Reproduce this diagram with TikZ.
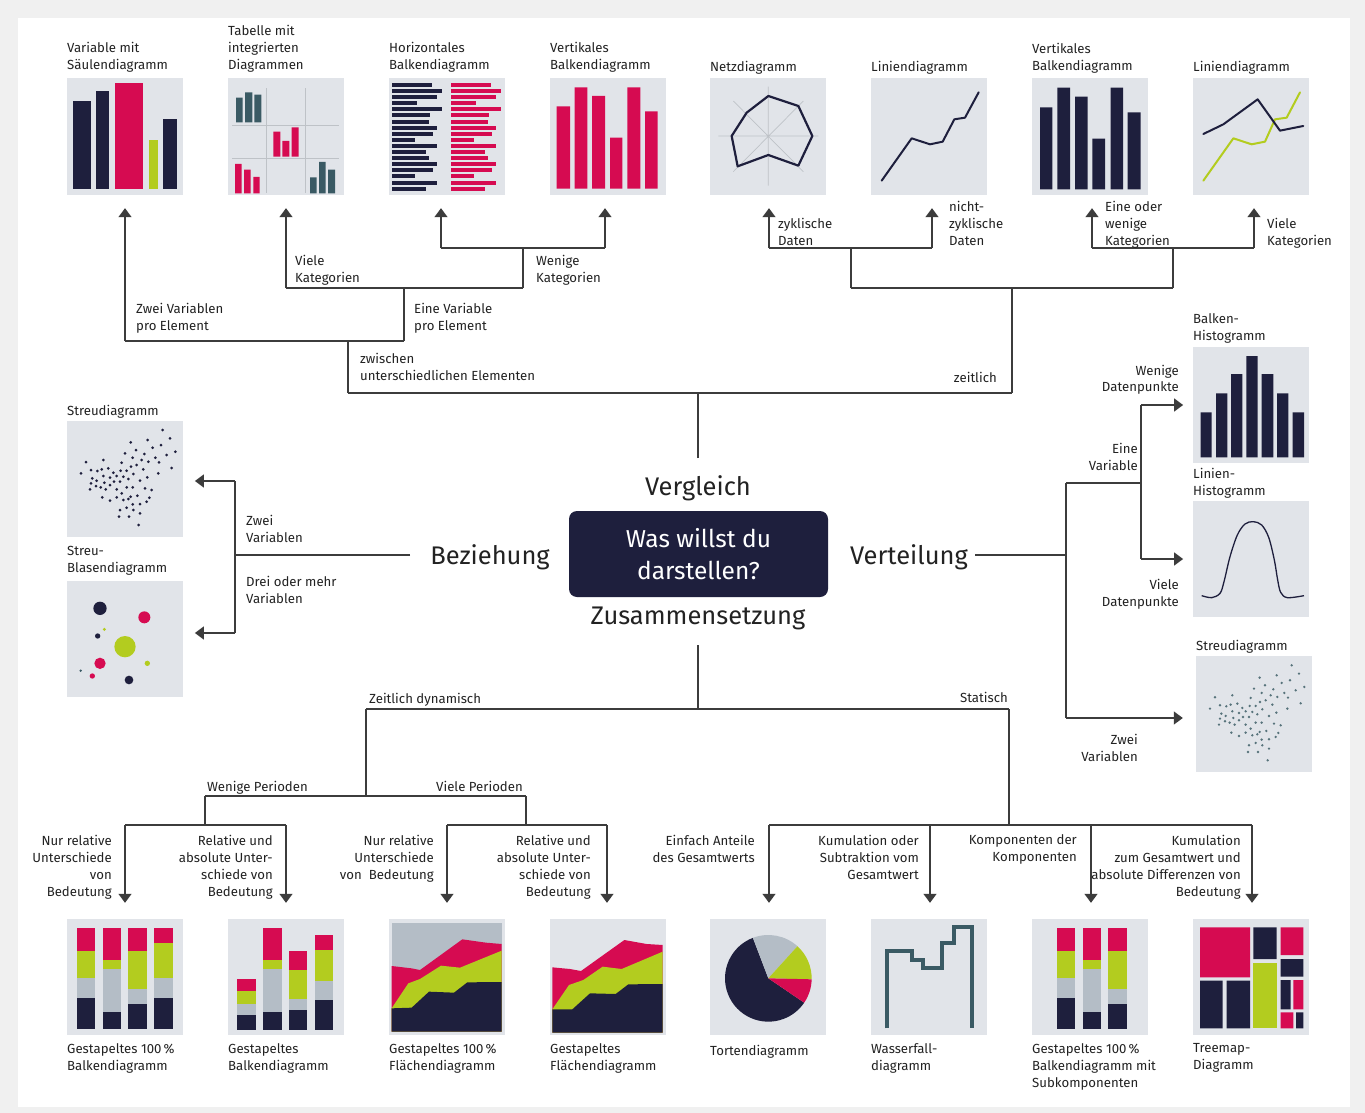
\documentclass[tikz,border=0pt]{standalone}
\usepackage{fontspec}
\setmainfont{Fira Sans}
\usetikzlibrary{arrows.meta}
\definecolor{navy}{RGB}{30,31,61}
\definecolor{crimson}{RGB}{214,11,81}
\definecolor{lime}{RGB}{179,204,31}
\definecolor{grayb}{RGB}{180,189,198}
\definecolor{tealc}{RGB}{58,90,100}
\definecolor{panelbg}{RGB}{225,228,233}
\definecolor{linec}{RGB}{60,60,60}
\definecolor{textc}{RGB}{34,34,34}
\definecolor{gridc}{RGB}{190,194,199}
\definecolor{framebg}{RGB}{240,240,240}
\newcommand{\lblfont}{\fontsize{13.2}{17}\selectfont}
\newcommand{\bigfont}{\fontsize{25.5}{30}\selectfont}
\newcommand{\boxfont}{\fontsize{24.5}{32}\selectfont}
\newcommand{\stkbar}[7]{\fill[crimson] (#1,#3) rectangle (#2,#4);\fill[lime] (#1,#4) rectangle (#2,#5);\fill[grayb] (#1,#5) rectangle (#2,#6);\fill[navy] (#1,#6) rectangle (#2,#7);}
\newcommand{\scatterdots}[2]{\foreach \px/\py in {308/90,330/115,263/120,212/127,303/135,278/143,228/150,346/155,253/162,320/165,195/160,218/173,286/173,245/180,265/185,297/187,130/180,185/188,78/186,230/195,335/204,213/200,145/205,112/213,93/210,125/208,160/218,182/212,200/212,250/208,295/220,63/220,130/228,150/233,170/228,190/230,205/237,262/232,220/222,97/235,110/242,180/245,240/242,162/245,133/248,93/250,108/258,150/255,122/262,90/268,137/268,200/262,218/262,255/265,275/270,170/268,185/280,127/292,268/293,150/302,170/292,190/300,212/290,232/287,260/305,205/297,218/313,240/312,180/330,200/323,220/330,177/350,207/350,240/340,236/375}{\fill[#1] (\px,\py) circle[radius=#2];}}
\begin{document}
\begin{tikzpicture}[x=1pt,y=-1pt,
  lbl/.style={font=\lblfont, text=textc, inner sep=0pt, yshift=-3pt, execute at begin node=\strut},
  lblL/.style={lbl, align=left, anchor=north west},
  lblR/.style={lbl, align=right, anchor=north east},
  big/.style={font=\bigfont, text=textc, inner sep=0pt, yshift=-2.5pt},
  panel/.style={fill=panelbg, minimum width=116pt, minimum height=116pt, inner sep=0pt, draw=none},
  conn/.style={draw=linec, line width=1.4pt},
  arr/.style={conn, -{Triangle[width=13pt,length=9pt]}},
]
\useasboundingbox (0,0) rectangle (1365,1113);
\fill[framebg] (0,0) rectangle (1365,1113);
\fill[white] (18,18) rectangle (1350,1107);

% ---------- panels ----------
\node[panel] (p1) at (125,136.5) {};
\node[panel] (p2) at (285.5,136.5) {};
\node[panel] (p3) at (446.5,136.5) {};
\node[panel] (p4) at (607.5,136.5) {};
\node[panel] (p5) at (768.3,136.5) {};
\node[panel] (p6) at (929.2,136.5) {};
\node[panel] (p7) at (1090,136.5) {};
\node[panel] (p8) at (1251.3,136.5) {};
\node[panel] (s1) at (125,478.7) {};
\node[panel] (s2) at (125,638.7) {};
\node[panel] (r1) at (1251,405) {};
\node[panel] (r2) at (1251,559.3) {};
\node[panel] (r3) at (1253.7,714.3) {};
\node[panel] (q1) at (125,977) {};
\node[panel] (q2) at (285.5,977) {};
\node[panel] (q3) at (446.7,977) {};
\node[panel] (q4) at (607.5,977) {};
\node[panel] (q5) at (768.3,977) {};
\node[panel] (q6) at (929.2,977) {};
\node[panel] (q7) at (1090,977) {};
\node[panel] (q8) at (1251.3,977) {};

% ---------- top charts ----------
\begin{scope}[shift={(60,20)}, scale=1/3]
  \fill[navy] (38,243) rectangle (92,508);
  \fill[navy] (108,213) rectangle (148,508);
  \fill[crimson] (165,190) rectangle (250,508);
  \fill[lime] (267,360) rectangle (293,508);
  \fill[navy] (308,297) rectangle (350,508);
  \draw[gridc, line width=0.8pt] (620,205)--(620,520) (735,205)--(735,520) (517,316)--(836,316) (517,416)--(836,416);
  \fill[tealc] (528,233) rectangle (548,307) (555,217) rectangle (577,307) (583,224) rectangle (604,307);
  \fill[crimson] (640,335) rectangle (661,410) (667,363) rectangle (688,410) (695,322) rectangle (716,410);
  \fill[crimson] (525,432) rectangle (545,520) (552,449) rectangle (572,520) (580,471) rectangle (599,520);
  \fill[tealc] (750,472) rectangle (770,520) (777,426) rectangle (797,520) (804,449) rectangle (825,520);
\end{scope}
\begin{scope}[shift={(380,30)}, scale=1/3]
  \foreach \l [count=\i from 0] in {40,50,45,25,50,38,37,45,41,23,45,34,37,45,41,23,45,34} {
    \fill[navy] (37,{159+\i*18.3}) rectangle ({37+3*\l},{171+\i*18.3});
    \fill[crimson] (212,{159+\i*18.3}) rectangle ({212+3*\l},{171+\i*18.3});
  }
  \fill[crimson] (530,229) rectangle (570,476) (584,172) rectangle (622,476) (636,198) rectangle (675,476)
    (690,323) rectangle (727,476) (742,172) rectangle (781,476) (795,244) rectangle (833,476);
\end{scope}
\begin{scope}[shift={(700,30)}, scale=1/3]
  \draw[gridc, line width=0.7pt] (205,170)--(205,467) (55,318)--(355,318) (100,213)--(310,425) (310,213)--(100,425);
  \draw[navy, line width=2.2pt, line join=round] (205,198)--(295,228)--(337,318)--(295,407)--(205,375)--(113,409)--(95,318)--(140,248)--cycle;
  \draw[navy, line width=2pt, line join=round, line cap=round] (545,452)--(635,325)--(690,343)--(728,335)--(763,268)--(795,263)--(836,187);
\end{scope}
\begin{scope}[shift={(1020,30)}, scale=1/3]
  \fill[navy] (60,232) rectangle (97,478) (112,173) rectangle (150,478) (165,200) rectangle (203,478)
    (217,326) rectangle (255,478) (272,173) rectangle (309,478) (323,247) rectangle (362,478);
  \draw[lime, line width=2pt, line join=round, line cap=round] (550,452)--(640,325)--(695,343)--(735,335)--(765,268)--(800,263)--(840,187);
  \draw[navy, line width=2pt, line join=round, line cap=round] (550,312)--(610,283)--(713,208)--(780,302)--(850,288);
\end{scope}

% ---------- left charts ----------
\begin{scope}[shift={(60,400)}, scale=1/3]
  \scatterdots{navy}{4.5}
  \fill[navy] (120,625) circle[radius=20];
  \fill[crimson] (253,652) circle[radius=18];
  \fill[lime] (133,688) circle[radius=5];
  \fill[navy] (113,708) circle[radius=8];
  \fill[lime] (195,740) circle[radius=32];
  \fill[crimson] (120,790) circle[radius=17];
  \fill[lime] (262,790) circle[radius=8];
  \fill[tealc] (62,812) circle[radius=4];
  \fill[crimson] (97,828) circle[radius=8];
  \fill[navy] (207,840) circle[radius=13];
\end{scope}

% ---------- right charts ----------
\begin{scope}[shift={(1180,300)}, scale=1/3]
  \fill[navy] (62,337) rectangle (95,472) (108,280) rectangle (142,472) (153,222) rectangle (187,472)
    (199,168) rectangle (233,472) (245,222) rectangle (280,472) (291,280) rectangle (325,472) (338,337) rectangle (372,472);
  \draw[navy, line width=1.3pt] plot[smooth, tension=0.55] coordinates {(65,887) (95,893) (120,880) (132,845) (150,770) (172,705) (195,672) (220,665) (245,675) (266,712) (283,780) (293,840) (302,877) (322,893) (372,887)};
\end{scope}
\begin{scope}[shift={(1189,635.3)}, scale=1/3]
  \scatterdots{tealc!85}{4}
\end{scope}

% ---------- bottom charts ----------
\begin{scope}[shift={(60,900)}, scale=1/3]
  \stkbar{50}{106}{84}{154}{233}{295}{388}
  \stkbar{128}{184}{84}{180}{207}{335}{388}
  \stkbar{205}{261}{84}{154}{268}{313}{388}
  \stkbar{282}{338}{84}{130}{233}{295}{388}
  \stkbar{532}{588}{237}{273}{313}{346}{390}
  \stkbar{610}{665}{84}{180}{207}{335}{390}
  \stkbar{687}{742}{154}{209}{297}{331}{390}
  \stkbar{765}{820}{106}{149}{244}{301}{390}
\end{scope}
\begin{scope}[shift={(380,900)}, scale=1/3]
  \fill[grayb] (35,70) rectangle (365,395);
  \fill[crimson] (35,395)--(35,198)--(95,205)--(120,210)--(247,118)--(318,128)--(365,132)--(365,395)--cycle;
  \fill[lime] (35,395)--(35,325)--(85,250)--(120,237)--(183,197)--(240,203)--(365,152)--(365,395)--cycle;
  \fill[navy] (35,395)--(35,325)--(95,323)--(147,275)--(222,278)--(262,247)--(365,246)--(365,395)--cycle;
  \fill[crimson] (517,398)--(517,202)--(570,207)--(603,213)--(733,120)--(800,132)--(848,135)--(848,398)--cycle;
  \fill[lime] (517,398)--(517,328)--(567,255)--(610,240)--(668,200)--(725,207)--(848,155)--(848,398)--cycle;
  \fill[navy] (517,398)--(517,328)--(577,328)--(630,280)--(707,282)--(745,253)--(848,252)--(848,398)--cycle;
\end{scope}
\begin{scope}[shift={(700,900)}, scale=1/3]
  \fill[navy] (205,235) -- ++(-110.9:130) arc[start angle=-110.9, end angle=-325.8, radius=130] -- cycle;
  \fill[grayb] (205,235) -- ++(-47.8:130) arc[start angle=-47.8, end angle=-110.9, radius=130] -- cycle;
  \fill[lime] (205,235) -- ++(1.3:130) arc[start angle=1.3, end angle=-47.8, radius=130] -- cycle;
  \fill[crimson] (205,235) -- ++(34.2:130) arc[start angle=34.2, end angle=1.3, radius=130] -- cycle;
  \draw[tealc, line width=4pt] (560,385)--(560,153)--(635,153)--(635,180)--(670,180)--(670,205)--(725,205)--(725,128)--(762,128)--(762,80)--(817,80)--(817,385);
\end{scope}
\begin{scope}[shift={(1020,900)}, scale=1/3]
  \stkbar{110}{166}{84}{154}{233}{295}{388}
  \stkbar{188}{244}{84}{180}{207}{335}{388}
  \stkbar{265}{321}{84}{154}{268}{313}{388}
  \fill[crimson] (540,82) rectangle (690,232) (782,82) rectangle (850,165) (820,240) rectangle (850,328) (782,337) rectangle (820,385);
  \fill[navy] (540,242) rectangle (608,385) (620,242) rectangle (690,385) (700,82) rectangle (770,177)
    (782,177) rectangle (850,230) (782,240) rectangle (812,328) (828,337) rectangle (850,385);
  \fill[lime] (700,190) rectangle (770,385);
\end{scope}

% ---------- centre ----------
\node[fill=navy, rounded corners=8pt, minimum width=259pt, minimum height=86pt, inner sep=0pt,
      text=white, font=\boxfont, align=center] (box) at (698.5,554) {Was willst du\\darstellen?};
\node[big] (vgl) at (698,486) {Vergleich};
\node[big] (bez) at (490,555) {Beziehung};
\node[big] (vert) at (909,555) {Verteilung};
\node[big] (zus) at (698,616) {Zusammensetzung};

% ---------- connectors: Vergleich ----------
\coordinate (v0) at (698,458);
\coordinate (v1) at (698,393);
\coordinate (a1) at (348,393);
\coordinate (a2) at (1012,393);
\coordinate (b1) at (348,341);
\coordinate (b0) at (125,341);
\coordinate (b2) at (404,341);
\coordinate (c1) at (404,288);
\coordinate (c0) at (286,288);
\coordinate (c2) at (523,288);
\coordinate (d1) at (523,248);
\coordinate (d0) at (441,248);
\coordinate (d2) at (605,248);
\coordinate (e1) at (1012,288);
\coordinate (e0) at (851,288);
\coordinate (e2) at (1173,288);
\coordinate (f1) at (851,248);
\coordinate (f0) at (769,248);
\coordinate (f2) at (932,248);
\coordinate (g1) at (1173,248);
\coordinate (g0) at (1092,248);
\coordinate (g2) at (1254,248);
\draw[conn] (v0) -- (v1);
\draw[conn] (a1) -- (a2);
\draw[conn] (a1) -- (b1);
\draw[conn] (b0) -- (b2);
\draw[conn] (b2) -- (c1);
\draw[conn] (c0) -- (c2);
\draw[conn] (c2) -- (d1);
\draw[conn] (d0) -- (d2);
\draw[conn] (a2) -- (e1);
\draw[conn] (e0) -- (e2);
\draw[conn] (e0) -- (f1);
\draw[conn] (f0) -- (f2);
\draw[conn] (e2) -- (g1);
\draw[conn] (g0) -- (g2);
\draw[arr, shorten >=13.5pt] (b0) -- (b0 |- p1.south);
\draw[arr, shorten >=13.5pt] (c0) -- (c0 |- p2.south);
\draw[arr, shorten >=13.5pt] (d0) -- (d0 |- p3.south);
\draw[arr, shorten >=13.5pt] (d2) -- (d2 |- p4.south);
\draw[arr, shorten >=13.5pt] (f0) -- (f0 |- p5.south);
\draw[arr, shorten >=13.5pt] (f2) -- (f2 |- p6.south);
\draw[arr, shorten >=13.5pt] (g0) -- (g0 |- p7.south);
\draw[arr, shorten >=13.5pt] (g2) -- (g2 |- p8.south);

% ---------- connectors: Beziehung ----------
\coordinate (h0) at (410,555);
\coordinate (h1) at (235,555);
\coordinate (h2) at (235,481);
\coordinate (h3) at (235,633);
\draw[conn] (h0) -- (h1);
\draw[conn] (h2) -- (h3);
\draw[arr, shorten >=11.7pt] (h2) -- (h2 -| s1.east);
\draw[arr, shorten >=11.7pt] (h3) -- (h3 -| s2.east);

% ---------- connectors: Verteilung ----------
\coordinate (k0) at (975,555);
\coordinate (k1) at (1066,555);
\coordinate (k2) at (1066,483);
\coordinate (k3) at (1066,718);
\coordinate (k4) at (1141,483);
\coordinate (k5) at (1141,405);
\coordinate (k6) at (1141,559);
\draw[conn] (k0) -- (k1);
\draw[conn] (k2) -- (k3);
\draw[conn] (k2) -- (k4);
\draw[conn] (k5) -- (k6);
\draw[arr, shorten >=9.7pt] (k5) -- (k5 -| r1.west);
\draw[arr, shorten >=9.7pt] (k6) -- (k6 -| r2.west);
\draw[arr, shorten >=12.7pt] (k3) -- (k3 -| r3.west);

% ---------- connectors: Zusammensetzung ----------
\coordinate (m0) at (698,645);
\coordinate (m1) at (698,709);
\coordinate (n0) at (366,709);
\coordinate (n1) at (1009,709);
\coordinate (o1) at (366,796);
\coordinate (o0) at (205,796);
\coordinate (o2) at (526,796);
\coordinate (t0) at (205,825);
\coordinate (t1) at (125,825);
\coordinate (t2) at (286,825);
\coordinate (u0) at (526,825);
\coordinate (u1) at (447,825);
\coordinate (u2) at (607,825);
\coordinate (w0) at (1009,825);
\coordinate (w1) at (769,825);
\coordinate (w2) at (1252,825);
\coordinate (w3) at (930,825);
\coordinate (w4) at (1091,825);
\draw[conn] (m0) -- (m1);
\draw[conn] (n0) -- (n1);
\draw[conn] (n0) -- (o1);
\draw[conn] (o0) -- (o2);
\draw[conn] (o0) -- (t0);
\draw[conn] (t1) -- (t2);
\draw[conn] (o2) -- (u0);
\draw[conn] (u1) -- (u2);
\draw[conn] (n1) -- (w0);
\draw[conn] (w1) -- (w2);
\draw[arr, shorten >=16pt] (t1) -- (t1 |- q1.north);
\draw[arr, shorten >=16pt] (t2) -- (t2 |- q2.north);
\draw[arr, shorten >=16pt] (u1) -- (u1 |- q3.north);
\draw[arr, shorten >=16pt] (u2) -- (u2 |- q4.north);
\draw[arr, shorten >=16pt] (w1) -- (w1 |- q5.north);
\draw[arr, shorten >=16pt] (w3) -- (w3 |- q6.north);
\draw[arr, shorten >=16pt] (w4) -- (w4 |- q7.north);
\draw[arr, shorten >=16pt] (w2) -- (w2 |- q8.north);

% ---------- labels: top titles ----------
\node[lblL] (tt1) at (67,39.5) {Variable mit\\Säulendiagramm};
\node[lblL] (tt2) at (228,22.5) {Tabelle mit\\integrierten\\Diagrammen};
\node[lblL] (tt3) at (389,39.5) {Horizontales\\Balkendiagramm};
\node[lblL] (tt4) at (550,39.5) {Vertikales\\Balkendiagramm};
\node[lblL] (tt5) at (710,56.5) {Netzdiagramm};
\node[lblL] (tt6) at (871,56.5) {Liniendiagramm};
\node[lblL] (tt7) at (1032,40.5) {Vertikales\\Balkendiagramm};
\node[lblL] (tt8) at (1193,56.5) {Liniendiagramm};
% branch labels top
\node[lblL] (lz) at (360,350.5) {zwischen\\unterschiedlichen Elementen};
\node[lblR] (lzt) at (997,367.5) {zeitlich};
\node[lblL] (lzv) at (136,300.5) {Zwei Variablen\\pro Element};
\node[lblL] (lev) at (414,300.5) {Eine Variable\\pro Element};
\node[lblL] (lvk) at (295,252.5) {Viele\\Kategorien};
\node[lblL] (lwk) at (536,252.5) {Wenige\\Kategorien};
\node[lblL] (lzy) at (778,215.5) {zyklische\\Daten};
\node[lblL] (lnz) at (949,198.5) {nicht-\\zyklische\\Daten};
\node[lblL] (leo) at (1105,198.5) {Eine oder\\wenige\\Kategorien};
\node[lblL] (lvk2) at (1267,215.5) {Viele\\Kategorien};
% left
\node[lblL] (ls1) at (67,400.5) {Streudiagramm};
\node[lblL] (ls2) at (67,543.5) {Streu-\\Blasendiagramm};
\node[lblL] (lzv2) at (246,511.5) {Zwei\\Variablen};
\node[lblL] (ldm) at (246,572.5) {Drei oder mehr\\Variablen};
% right
\node[lblL] (lr1) at (1193,310.5) {Balken-\\Histogramm};
\node[lblL] (lr2) at (1193,464.5) {Linien-\\Histogramm};
\node[lblL] (lr3) at (1196,635.5) {Streudiagramm};
\node[lblR] (lwd) at (1179,361.5) {Wenige\\Datenpunkte};
\node[lblR] (lev2) at (1138,439.5) {Eine\\Variable};
\node[lblR] (lvd) at (1179,575.5) {Viele\\Datenpunkte};
\node[lblR] (lzv3) at (1138,730.5) {Zwei\\Variablen};
% bottom branches
\node[lblL] (lzd) at (369,688.5) {Zeitlich dynamisch};
\node[lblR] (lst) at (1008,687.5) {Statisch};
\node[lblL] (lwp) at (207,776.5) {Wenige Perioden};
\node[lblL] (lvp) at (436,776.5) {Viele Perioden};
\node[lblR] (lb1) at (112,831.5) {Nur relative\\Unterschiede\\von\\Bedeutung};
\node[lblR] (lb2) at (273,831.5) {Relative und\\absolute Unter-\\schiede von\\Bedeutung};
\node[lblR] (lb3) at (434,831.5) {Nur relative\\Unterschiede\\von\ \ Bedeutung};
\node[lblR] (lb4) at (591,831.5) {Relative und\\absolute Unter-\\schiede von\\Bedeutung};
\node[lblR] (lb5) at (755,831.5) {Einfach Anteile\\des Gesamtwerts};
\node[lblR] (lb6) at (919,831.5) {Kumulation oder\\Subtraktion vom\\Gesamtwert};
\node[lblR] (lb7) at (1077,831.5) {Komponenten der\\Komponenten};
\node[lblR] (lb8) at (1241,831.5) {Kumulation\\zum Gesamtwert und\\absolute Differenzen von\\Bedeutung};
% bottom titles
\node[lblL] (bt1) at (67,1040.5) {Gestapeltes 100\,\%\\Balkendiagramm};
\node[lblL] (bt2) at (228,1040.5) {Gestapeltes\\Balkendiagramm};
\node[lblL] (bt3) at (389,1040.5) {Gestapeltes 100\,\%\\Flächendiagramm};
\node[lblL] (bt4) at (550,1040.5) {Gestapeltes\\Flächendiagramm};
\node[lblL] (bt5) at (710,1040.5) {Tortendiagramm};
\node[lblL] (bt6) at (871,1040.5) {Wasserfall-\\diagramm};
\node[lblL] (bt7) at (1032,1040.5) {Gestapeltes 100\,\%\\Balkendiagramm mit\\Subkomponenten};
\node[lblL] (bt8) at (1193,1040.5) {Treemap-\\Diagramm};
\end{tikzpicture}
\end{document}
